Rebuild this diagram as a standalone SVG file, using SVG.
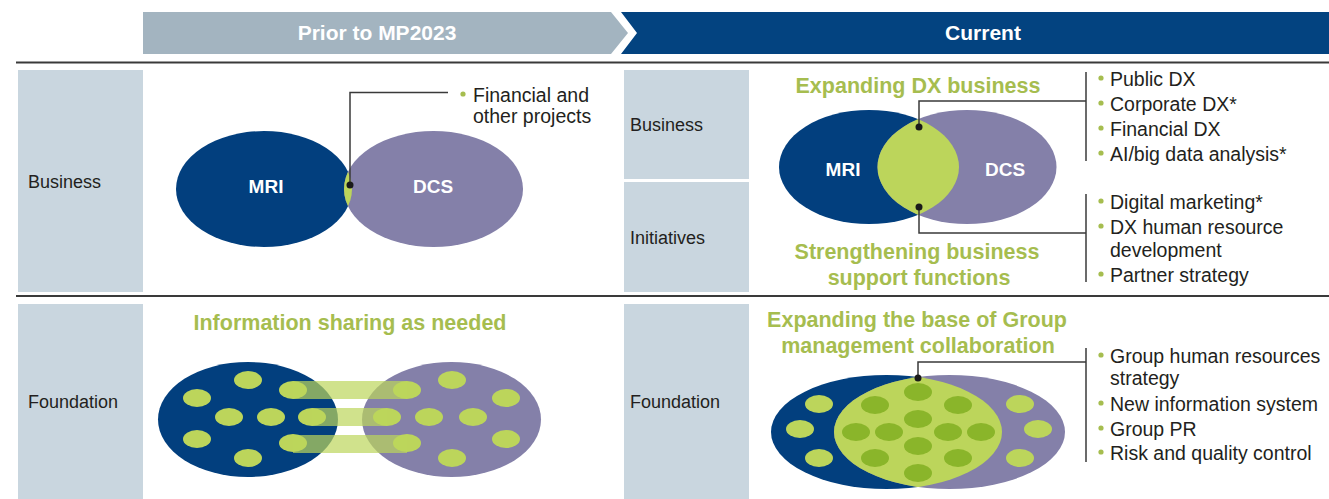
<svg xmlns="http://www.w3.org/2000/svg" width="1329" height="499" viewBox="0 0 1329 499">
<style>
.lbl{font-family:"Liberation Sans",Arial,sans-serif;font-size:18px;fill:#231f20}
.txt{font-family:"Liberation Sans",Arial,sans-serif;font-size:19.5px;fill:#231f20}
.ttl{font-family:"Liberation Sans",Arial,sans-serif;font-size:21.5px;font-weight:bold;fill:#a6bd4f;text-anchor:middle}
.hdr{font-family:"Liberation Sans",Arial,sans-serif;font-size:21px;font-weight:bold;fill:#fff;text-anchor:middle}
.co{font-family:"Liberation Sans",Arial,sans-serif;font-size:19px;font-weight:bold;fill:#fff;text-anchor:middle}
.box{fill:#c9d6df}
.mri{fill:#023f7e}
.dcs{fill:#8480a9}
.lens{fill:#bcd55b}
.ld{fill:#bcd55b}
.dd{fill:#8ab52a}
.band{fill:#bcd55b;opacity:0.7}
.bul{fill:#a6bd4f}
.lead{fill:none;stroke:#3a3a3a;stroke-width:1.5}
.rule{stroke:#3a3a3a;stroke-width:2}
.pin{fill:#1a1a1a}
</style>
<defs>
<clipPath id="cm1"><ellipse cx="264" cy="189" rx="88" ry="58"/></clipPath>
<clipPath id="cm2"><ellipse cx="869" cy="167" rx="90" ry="57"/></clipPath>
<clipPath id="cm3"><ellipse cx="886.5" cy="432" rx="115.5" ry="57"/></clipPath>
</defs>
<rect width="1329" height="499" fill="#fff"/>

<g id="header-prior">
<polygon points="143,12 611,12 628,33 611,54 143,54" fill="#a3b4c0"/>
<text class="hdr" x="377" y="40">Prior to MP2023</text>
</g>
<g id="header-current">
<polygon points="621,12 1329,12 1329,54 621,54 637,33" fill="#034380"/>
<text class="hdr" x="983" y="40">Current</text>
</g>

<g id="rules">
<line class="rule" x1="16" y1="62.5" x2="1329" y2="62.5"/>
<line class="rule" x1="16" y1="296" x2="1329" y2="296"/>
</g>

<g id="label-business-prior"><rect class="box" x="18" y="70" width="125" height="222"/><text class="lbl" x="28" y="188">Business</text></g>
<g id="label-foundation-prior"><rect class="box" x="18" y="304" width="125" height="195"/><text class="lbl" x="28" y="408">Foundation</text></g>
<g id="label-business-current"><rect class="box" x="624" y="70" width="125" height="109"/><text class="lbl" x="630" y="131">Business</text></g>
<g id="label-initiatives-current"><rect class="box" x="624" y="182" width="125" height="110"/><text class="lbl" x="630" y="244">Initiatives</text></g>
<g id="label-foundation-current"><rect class="box" x="624" y="304" width="125" height="195"/><text class="lbl" x="630" y="408">Foundation</text></g>

<g id="venn-business-prior">
<ellipse class="mri" cx="264" cy="189" rx="88" ry="58"/>
<ellipse class="dcs" cx="433.5" cy="189" rx="89.5" ry="58"/>
<ellipse class="lens" cx="433.5" cy="189" rx="89.5" ry="58" clip-path="url(#cm1)"/>
<text class="co" x="266" y="193">MRI</text>
<text class="co" x="433" y="193">DCS</text>
</g>

<g id="venn-business-current">
<ellipse class="mri" cx="869" cy="167" rx="90" ry="57"/>
<ellipse class="dcs" cx="967" cy="167" rx="89.5" ry="57"/>
<ellipse class="lens" cx="967" cy="167" rx="89.5" ry="57" clip-path="url(#cm2)"/>
<text class="co" x="843" y="176">MRI</text>
<text class="co" x="1005" y="176">DCS</text>
</g>

<g id="venn-foundation-prior">
<ellipse class="mri" cx="248" cy="419.5" rx="90" ry="57.5"/>
<ellipse class="dcs" cx="451.5" cy="419.5" rx="89.5" ry="57.5"/>
<g class="ld">
<ellipse cx="248" cy="380" rx="14" ry="9"/>
<ellipse cx="197" cy="398" rx="14" ry="9"/>
<ellipse cx="293" cy="390" rx="14" ry="9"/>
<ellipse cx="229" cy="417" rx="14" ry="9"/>
<ellipse cx="271" cy="417" rx="14" ry="9"/>
<ellipse cx="312" cy="417" rx="14" ry="9"/>
<ellipse cx="197" cy="439" rx="14" ry="9"/>
<ellipse cx="293" cy="443" rx="14" ry="9"/>
<ellipse cx="248" cy="458" rx="14" ry="9"/>
<ellipse cx="452" cy="380" rx="14" ry="9"/>
<ellipse cx="506" cy="398" rx="14" ry="9"/>
<ellipse cx="407" cy="390" rx="14" ry="9"/>
<ellipse cx="387" cy="417" rx="14" ry="9"/>
<ellipse cx="429" cy="417" rx="14" ry="9"/>
<ellipse cx="473" cy="417" rx="14" ry="9"/>
<ellipse cx="506" cy="439" rx="14" ry="9"/>
<ellipse cx="407" cy="443" rx="14" ry="9"/>
<ellipse cx="452" cy="458" rx="14" ry="9"/>
</g>
<rect class="band" x="293" y="381" width="114" height="18"/>
<rect class="band" x="312" y="408" width="75" height="18"/>
<rect class="band" x="293" y="435" width="114" height="18"/>
</g>

<g id="venn-foundation-current">
<ellipse class="mri" cx="886.5" cy="432" rx="115.5" ry="57"/>
<ellipse class="dcs" cx="949.5" cy="432" rx="115.5" ry="57"/>
<ellipse class="lens" cx="949.5" cy="432" rx="115.5" ry="57" clip-path="url(#cm3)"/>
<g class="ld">
<ellipse cx="819" cy="404" rx="14" ry="9"/>
<ellipse cx="800" cy="429" rx="14" ry="9"/>
<ellipse cx="819" cy="458" rx="14" ry="9"/>
<ellipse cx="1020" cy="404" rx="14" ry="9"/>
<ellipse cx="1038" cy="429" rx="14" ry="9"/>
<ellipse cx="1020" cy="458" rx="14" ry="9"/>
</g>
<g class="dd">
<ellipse cx="918" cy="392" rx="14" ry="9"/>
<ellipse cx="875" cy="405" rx="14" ry="9"/>
<ellipse cx="958" cy="405" rx="14" ry="9"/>
<ellipse cx="918" cy="419" rx="14" ry="9"/>
<ellipse cx="856" cy="432" rx="14" ry="9"/>
<ellipse cx="889" cy="432" rx="14" ry="9"/>
<ellipse cx="948" cy="432" rx="14" ry="9"/>
<ellipse cx="981" cy="432" rx="14" ry="9"/>
<ellipse cx="918" cy="446" rx="14" ry="9"/>
<ellipse cx="875" cy="458" rx="14" ry="9"/>
<ellipse cx="958" cy="458" rx="14" ry="9"/>
<ellipse cx="918" cy="473" rx="14" ry="9"/>
</g>
</g>

<g id="connectors">
<polyline class="lead" points="350,185 350,92.5 448,92.5"/>
<polyline class="lead" points="919,127 919,101 1086,101"/>
<line class="lead" x1="1086" y1="72" x2="1086" y2="161"/>
<polyline class="lead" points="919,207 919,233 1086,233"/>
<line class="lead" x1="1086" y1="194" x2="1086" y2="282"/>
<polyline class="lead" points="918,378 918,362 1086,362"/>
<line class="lead" x1="1086" y1="348" x2="1086" y2="462"/>
<circle class="pin" cx="350" cy="185" r="3.5"/>
<circle class="pin" cx="919" cy="127" r="3.5"/>
<circle class="pin" cx="919" cy="207" r="3.5"/>
<circle class="pin" cx="918" cy="378" r="3.5"/>
</g>

<g id="titles">
<text class="ttl" x="918" y="93">Expanding DX business</text>
<text class="ttl" x="917" y="259">Strengthening business</text>
<text class="ttl" x="919" y="285">support functions</text>
<text class="ttl" x="350" y="330">Information sharing as needed</text>
<text class="ttl" x="917" y="327">Expanding the base of Group</text>
<text class="ttl" x="918" y="353">management collaboration</text>
</g>

<g id="list-prior">
<circle class="bul" cx="463" cy="94" r="2.6"/>
<text class="txt" x="473" y="102">Financial and</text>
<text class="txt" x="473" y="123">other projects</text>
</g>

<g id="list-business">
<circle class="bul" cx="1101" cy="78" r="2.6"/><text class="txt" x="1110" y="86">Public DX</text>
<circle class="bul" cx="1101" cy="103" r="2.6"/><text class="txt" x="1110" y="111">Corporate DX*</text>
<circle class="bul" cx="1101" cy="128" r="2.6"/><text class="txt" x="1110" y="136">Financial DX</text>
<circle class="bul" cx="1101" cy="153" r="2.6"/><text class="txt" x="1110" y="161">AI/big data analysis*</text>
</g>
<g id="list-initiatives">
<circle class="bul" cx="1101" cy="201" r="2.6"/><text class="txt" x="1110" y="209">Digital marketing*</text>
<circle class="bul" cx="1101" cy="226" r="2.6"/><text class="txt" x="1110" y="234">DX human resource</text>
<text class="txt" x="1110" y="257">development</text>
<circle class="bul" cx="1101" cy="274" r="2.6"/><text class="txt" x="1110" y="282">Partner strategy</text>
</g>
<g id="list-foundation">
<circle class="bul" cx="1101" cy="355" r="2.6"/><text class="txt" x="1110" y="363">Group human resources</text>
<text class="txt" x="1110" y="385">strategy</text>
<circle class="bul" cx="1101" cy="403" r="2.6"/><text class="txt" x="1110" y="411">New information system</text>
<circle class="bul" cx="1101" cy="428" r="2.6"/><text class="txt" x="1110" y="436">Group PR</text>
<circle class="bul" cx="1101" cy="452" r="2.6"/><text class="txt" x="1110" y="460">Risk and quality control</text>
</g>
</svg>
